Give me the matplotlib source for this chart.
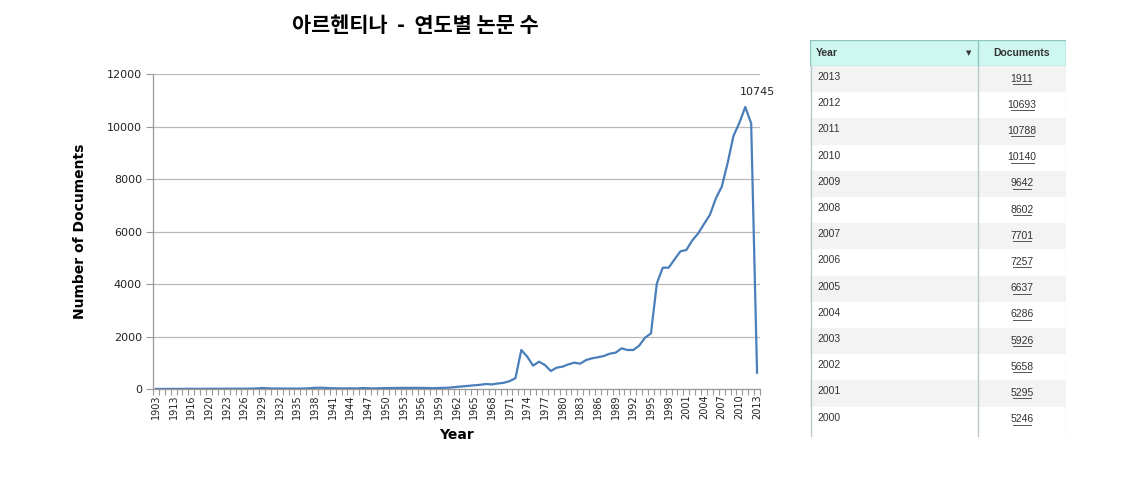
import matplotlib
matplotlib.use('Agg')
import matplotlib.pyplot as plt
from matplotlib.patches import Rectangle

# ---------------- data ----------------
years = [1903, 1906, 1910, 1913, 1914, 1915, 1916, 1917, 1919] + list(range(1920, 2014))
documents = [
    3, 2, 4, 5, 3, 6, 8, 5, 7,
    8, 10, 9, 12, 10, 14, 12, 15, 20, 40,
    25, 18, 20, 16, 18, 15, 20, 28, 45, 50,
    38, 30, 25, 22, 28, 20, 35, 30, 22, 30,
    35, 38, 40, 42, 40, 45, 42, 40,
    30, 40, 45, 55, 80, 100, 120, 140, 160, 190, 175, 210, 235, 300, 410,
    1486, 1232, 889, 1041, 914, 686, 813, 851, 940, 1003,
    965, 1105, 1168, 1210, 1257, 1346, 1384, 1549, 1486, 1486,
    1651, 1956, 2120, 4026, 4621, 4621, 4939, 5246, 5295, 5658,
    5926, 6286, 6637, 7257, 7701, 8602, 9642, 10140, 10745, 10120, 620,
]
peak_label = "10745"

table_years = [2013, 2012, 2011, 2010, 2009, 2008, 2007, 2006, 2005, 2004, 2003, 2002, 2001, 2000]
table_docs = [1911, 10693, 10788, 10140, 9642, 8602, 7701, 7257, 6637, 6286, 5926, 5658, 5295, 5246]

title = "아르헨티나  -  연도별 논문 수"
xlabel = "Year"
ylabel = "Number of Documents"
yticks = [0, 2000, 4000, 6000, 8000, 10000, 12000]

# ---------------- figure ----------------
W, H = 1132, 494
fig = plt.figure(figsize=(W / 100, H / 100), dpi=100)
fig.patch.set_facecolor('white')

ax = fig.add_axes([153 / W, 1 - 389 / H, (760 - 153) / W, (389 - 74) / H])
idx = list(range(len(years)))
ax.plot(idx, documents, color='#4a7ebb', lw=1.6, solid_joinstyle='round')
ax.set_xlim(-0.5, len(years) - 0.5)
ax.set_ylim(0, 12000)
ax.set_yticks(yticks)
ax.set_yticklabels([str(v) for v in yticks], fontsize=8, color='#222222')
ax.yaxis.grid(True, color='#b8b8b8', lw=0.9)
ax.set_axisbelow(True)

lab_idx = idx[::3]
ax.set_xticks(lab_idx)
ax.set_xticklabels([str(years[i]) for i in lab_idx], rotation=90, fontsize=7, color='#222222')
ax.tick_params(axis='x', length=0, pad=4)
ax.set_xticks([i + 0.5 for i in idx[:-1]] + [-0.5, len(years) - 0.5], minor=True)
ax.tick_params(axis='x', which='minor', length=4, color='#999999', width=0.8)
ax.tick_params(axis='y', length=5, color='#999999', width=0.8, pad=3)

for s in ['top', 'right']:
    ax.spines[s].set_visible(False)
for s in ['left', 'bottom']:
    ax.spines[s].set_color('#999999')
    ax.spines[s].set_linewidth(0.9)

peak_i = documents.index(max(documents))
ax.annotate(peak_label, (peak_i, documents[peak_i]), xytext=(9, 7),
            textcoords='offset points', ha='center', va='bottom', fontsize=8, color='#222222')

ax.set_xlabel(xlabel, fontsize=10, fontweight='bold', labelpad=6)
ax.set_ylabel(ylabel, fontsize=10, fontweight='bold', labelpad=14)

fig.text(415 / W, 1 - 26 / H, title, ha='center', va='center', fontsize=15,
         fontweight='bold', family=['Noto Sans CJK KR', 'DejaVu Sans'])

# ---------------- table ----------------
tx0, tx1, ty0, ty1 = 810, 1066, 40, 437
tax = fig.add_axes([tx0 / W, 1 - ty1 / H, (tx1 - tx0) / W, (ty1 - ty0) / H])
tax.set_xlim(0, tx1 - tx0)
tax.set_ylim(ty1 - ty0, 0)
tax.axis('off')

hdr_h = 26
row_h = 26.2
col_split = 978 - tx0
tw = tx1 - tx0
narrow = ['Liberation Sans Narrow', 'Liberation Sans', 'DejaVu Sans']

tax.add_patch(Rectangle((0, 0), tw, hdr_h, facecolor='#cdf7ef', edgecolor='#8fc7bf', lw=1))
tax.plot([col_split, col_split], [0, hdr_h], color='#8fc7bf', lw=1)
tax.text(6, hdr_h / 2, 'Year', ha='left', va='center', fontsize=7.5, fontweight='bold',
         color='#333333', family=narrow)
tax.text(col_split - 9, hdr_h / 2, '▼', ha='center', va='center', fontsize=5, color='#333333')
tax.text((col_split + tw) / 2, hdr_h / 2, 'Documents', ha='center', va='center', fontsize=7.5,
         fontweight='bold', color='#333333', family=narrow)

for r, (yv, dv) in enumerate(zip(table_years, table_docs)):
    y0 = hdr_h + r * row_h
    if r % 2 == 0:
        tax.add_patch(Rectangle((0, y0), tw, row_h, facecolor='#f3f3f3', edgecolor='none'))
    tax.text(7, y0 + 11, str(yv), ha='left', va='center', fontsize=7.5, color='#333333', family=narrow)
    tax.text((col_split + tw) / 2, y0 + 12.5, str(dv), ha='center', va='center', fontsize=7.5,
             color='#333333', family=narrow)
    dw = len(str(dv)) * 4.6
    cx = (col_split + tw) / 2
    tax.plot([cx - dw / 2, cx + dw / 2], [y0 + 18, y0 + 18], color='#555555', lw=0.7)

tax.plot([0.5, 0.5], [hdr_h, ty1 - ty0], color='#b9c9c6', lw=1)
tax.plot([col_split, col_split], [hdr_h, ty1 - ty0], color='#b9c9c6', lw=1)
tax.plot([tw - 0.5, tw - 0.5], [hdr_h, ty1 - ty0], color='#e6e6e6', lw=1)

fig.savefig('out.png', dpi=100)
